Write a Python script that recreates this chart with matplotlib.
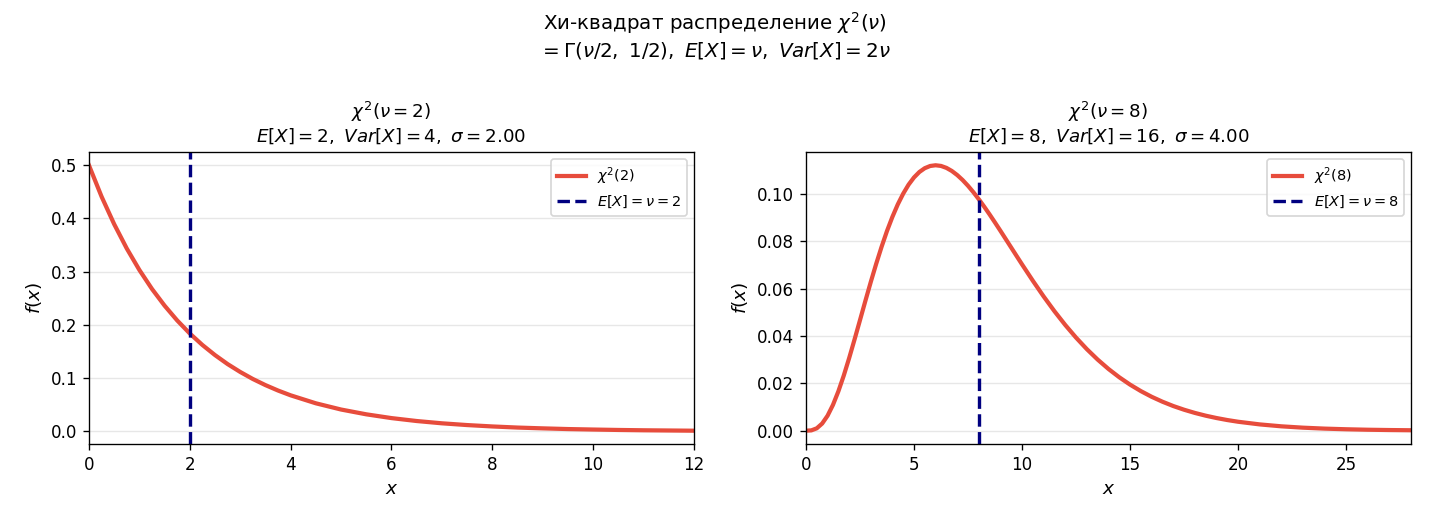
import matplotlib
matplotlib.use("Agg")
import matplotlib.pyplot as plt

# Degrees of freedom
nu_left = 2
nu_right = 8

# Curve values
x_left = [0, 0.25, 0.5, 0.75, 1, 1.25, 1.5, 1.75, 2, 2.25, 2.5, 2.75, 3, 3.25,
          3.5, 3.75, 4, 4.5, 5, 5.5, 6, 6.5, 7, 7.5, 8,
          8.5, 9, 9.5, 10, 10.5, 11, 11.5, 12]
f_left = [0.5, 0.4412, 0.3894, 0.3436, 0.3033, 0.2676, 0.2362, 0.2084, 0.1839,
          0.1623, 0.1433, 0.1264, 0.1116, 0.0984, 0.0869, 0.0767, 0.0677,
          0.0527, 0.0410, 0.0320, 0.0249, 0.0194, 0.0151, 0.0118, 0.0092,
          0.0071, 0.0056, 0.0043, 0.0034, 0.0026, 0.0020, 0.0016, 0.0012]

x_right = [0, 0.25, 0.5, 0.75, 1, 1.25, 1.5, 1.75, 2, 2.25, 2.5, 2.75, 3, 3.25,
           3.5, 3.75, 4, 4.25, 4.5, 4.75, 5, 5.25, 5.5, 5.75, 6, 6.25, 6.5,
           6.75, 7, 7.25, 7.5, 7.75, 8, 8.25, 8.5, 8.75, 9, 9.25, 9.5, 9.75,
           10, 10.5, 11, 11.5, 12, 12.5, 13, 13.5, 14, 14.5, 15,
           15.5, 16, 16.5, 17, 17.5, 18, 18.5, 19, 19.5, 20, 21, 22, 23, 24,
           25, 26, 27, 28]
f_right = [0.0, 0.00014, 0.00101, 0.00302, 0.00632, 0.01089, 0.01661, 0.02327,
           0.03066, 0.03853, 0.04663, 0.05477, 0.06276, 0.07041, 0.07761,
           0.08427, 0.09022, 0.09550, 0.10003, 0.10384, 0.10688, 0.10919,
           0.11079, 0.11172, 0.11202, 0.11174, 0.11092, 0.10962, 0.10789,
           0.10579, 0.10335, 0.10063, 0.09768, 0.09454, 0.09125, 0.08784,
           0.08436, 0.08082, 0.07727, 0.07372, 0.07019, 0.06328,
           0.05666, 0.05042, 0.04462, 0.03928, 0.03441, 0.03001, 0.02606,
           0.02255, 0.01944, 0.01671, 0.01431, 0.01223, 0.01041, 0.00885,
           0.00750, 0.00634, 0.00535, 0.00450, 0.00378, 0.00266, 0.00185,
           0.00128, 0.00088, 0.00061, 0.00041, 0.00028, 0.00019]

xlim_left = (0, 12)
xlim_right = (0, 28)

DPI = 121
fig = plt.figure(figsize=(1430 / DPI, 520 / DPI), dpi=DPI)
ax1 = fig.add_axes([0.0622, 0.1462, 0.4231, 0.5615])
ax2 = fig.add_axes([0.5636, 0.1462, 0.4231, 0.5615])

fig.suptitle("Хи-квадрат распределение $\\chi^2(\\nu)$\n"
             "$= \\Gamma(\\nu/2,\\ 1/2),\\ E[X] = \\nu,\\ Var[X] = 2\\nu$",
             fontsize=11.8, y=0.98)

for ax, xs, fs, nu, xl in [(ax1, x_left, f_left, nu_left, xlim_left),
                           (ax2, x_right, f_right, nu_right, xlim_right)]:
    ax.plot(xs, fs, color="#e74c3c", lw=2.5, label=f"$\\chi^2({nu})$")
    ax.axvline(nu, color="navy", ls="--", lw=2, label=f"$E[X] = \\nu = {nu}$")
    ax.set_xlim(*xl)
    ax.grid(axis="y", alpha=0.3)
    ax.tick_params(labelsize=10)
    ax.set_xlabel("$x$", fontsize=11)
    ax.set_ylabel("$f(x)$", fontsize=11)
    sigma = (2 * nu) ** 0.5
    ax.set_title(f"$\\chi^2(\\nu = {nu})$\n"
                 f"$E[X] = {nu},\\ Var[X] = {2 * nu},\\ \\sigma = {sigma:.2f}$",
                 fontsize=10.9)
    ax.legend(loc="upper right", fontsize=8.6)

fig.savefig("out.png", dpi=DPI)
